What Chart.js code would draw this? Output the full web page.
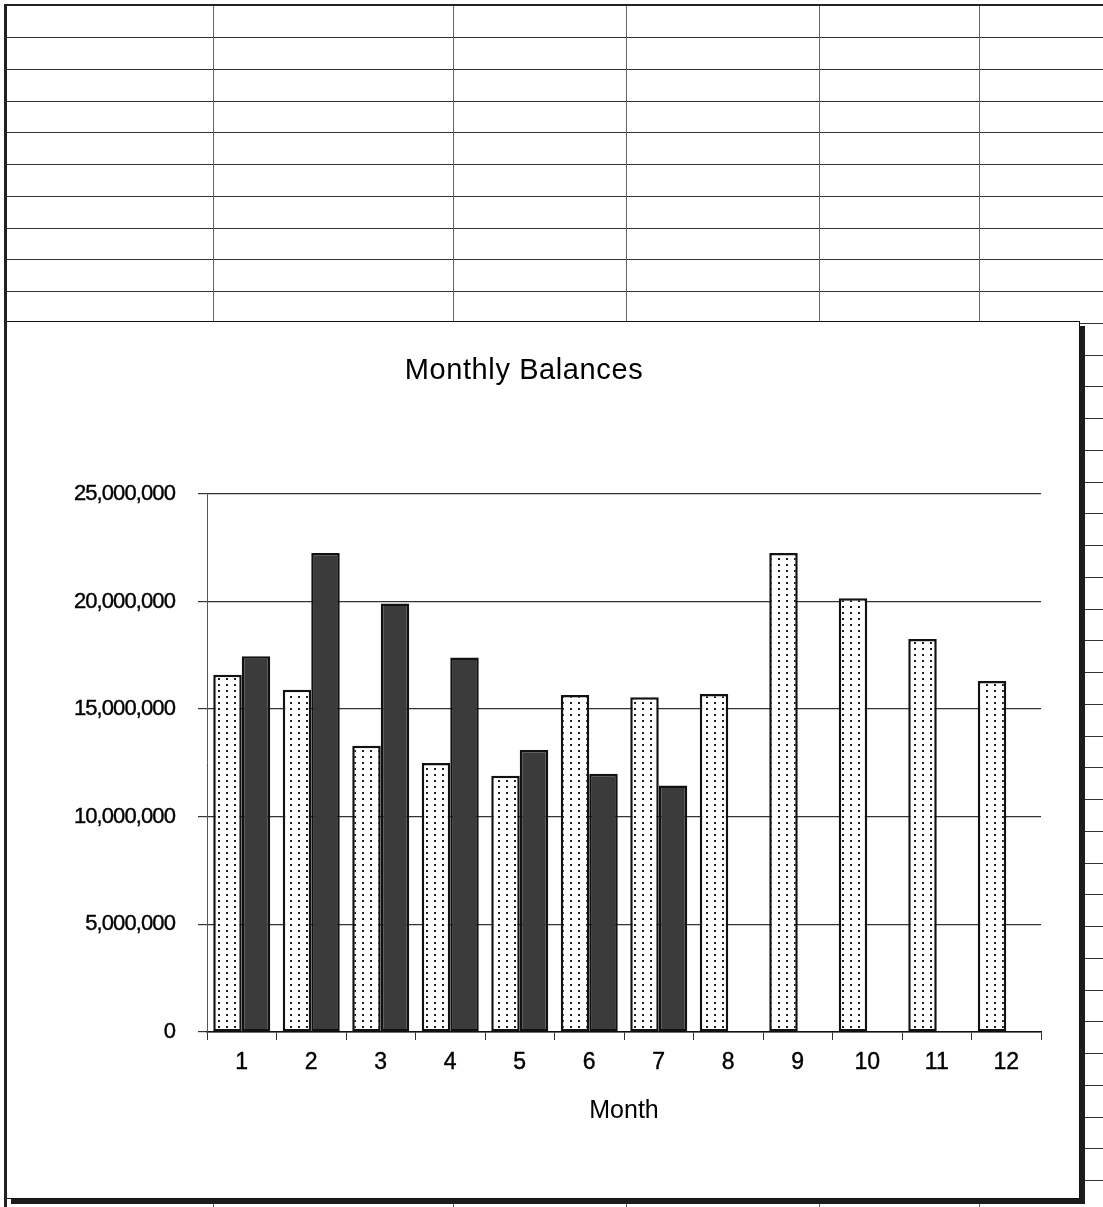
<!DOCTYPE html>
<html>
<head>
<meta charset="utf-8">
<title>Monthly Balances</title>
<script src="https://cdn.jsdelivr.net/npm/chart.js@4.4.1/dist/chart.umd.min.js"></script>
<style>
  html, body { margin: 0; padding: 0; background: #fff; }
  #sheet { position: relative; width: 1103px; height: 1207px; overflow: hidden; background: #fff; }
  .row-line { position: absolute; left: 7px; width: 1096px; height: 1px; background: #333; }
  .col-line { position: absolute; top: 5px; width: 1px; height: 1202px; background: #666; }
  #topEdge { position: absolute; left: 4px; top: 4px; width: 1099px; height: 2px; background: #222; z-index: 3; }
  #leftEdge { position: absolute; left: 4px; top: 4px; width: 3px; height: 1203px; background: #222; z-index: 3; }
  #chartBox {
    position: absolute; left: 6px; top: 321px; width: 1072px; height: 876px;
    border: 1px solid #111; background: #fff; box-shadow: 5px 5px 0 #1c1c1c; z-index: 2;
  }
  #chartBox canvas { display: block; }
</style>
</head>
<body>
<div id="sheet">
  <div id="topEdge"></div>
  <div id="leftEdge"></div>
  <div id="chartBox"><canvas id="balances" width="1072" height="876"></canvas></div>
</div>
<script>
// Chart data
const months = ['1', '2', '3', '4', '5', '6', '7', '8', '9', '10', '11', '12'];
const balancesA = [16600000, 15900000, 13300000, 12500000, 11900000, 15650000,
                   15550000, 15700000, 22250000, 20150000, 18250000, 16300000];
const balancesB = [17450000, 22250000, 19900000, 17400000, 13100000, 12000000,
                   11450000, null, null, null, null, null];
const yTicks = [0, 5000000, 10000000, 15000000, 20000000, 25000000];

// Worksheet cell grid behind the chart object
(function drawSheet() {
  const sheet = document.getElementById('sheet');
  for (let k = 1; k < 38; k++) {
    const d = document.createElement('div');
    d.className = 'row-line';
    d.style.top = Math.round(5.3 + k * 31.75) + 'px';
    sheet.appendChild(d);
  }
  [213, 453, 626, 819, 979].forEach(x => {
    const d = document.createElement('div');
    d.className = 'col-line';
    d.style.left = x + 'px';
    sheet.appendChild(d);
  });
})();

// Dotted fill for the first series
function dotPattern(ctx) {
  const c = document.createElement('canvas');
  c.width = 8; c.height = 6;
  const g = c.getContext('2d');
  g.fillStyle = '#fff';
  g.fillRect(0, 0, 8, 6);
  g.fillStyle = '#1e1e1e';
  g.fillRect(3, 2, 2, 2);
  return ctx.createPattern(c, 'repeat');
}

// Per-element letter spacing for text drawn by Chart.js
function withSpacing(obj, method, spacing) {
  if (!obj || obj['_spaced_' + method]) return;
  const orig = obj[method];
  obj[method] = function (...args) {
    const c = this.ctx;
    const prev = c.letterSpacing;
    c.letterSpacing = spacing;
    orig.apply(this, args);
    c.letterSpacing = prev;
  };
  obj['_spaced_' + method] = true;
}
const textSpacing = {
  id: 'textSpacing',
  afterLayout(chart) {
    withSpacing(chart.titleBlock, 'draw', '0.6px');
    withSpacing(chart.scales.y, 'drawLabels', '-0.9px');
  }
};

const FONT = "'Liberation Sans', Arial, Helvetica, sans-serif";
const canvas = document.getElementById('balances');
const ctx = canvas.getContext('2d');

new Chart(ctx, {
  type: 'bar',
  data: {
    labels: months,
    datasets: [
      {
        label: 'Balance A',
        data: balancesA,
        backgroundColor: dotPattern(ctx),
        borderColor: '#111',
        borderWidth: 2.5,
        borderSkipped: false,
        categoryPercentage: 0.82,
        barPercentage: 1
      },
      {
        label: 'Balance B',
        data: balancesB,
        backgroundColor: '#3b3b3b',
        borderColor: '#111',
        borderWidth: 2.5,
        borderSkipped: false,
        categoryPercentage: 0.82,
        barPercentage: 1
      }
    ]
  },
  plugins: [textSpacing],
  options: {
    responsive: false,
    animation: false,
    devicePixelRatio: 1,
    layout: { padding: { left: 0, right: 38, top: 0, bottom: 0 } },
    plugins: {
      legend: { display: false },
      tooltip: { enabled: false },
      title: {
        display: true,
        text: 'Monthly Balances',
        color: '#000',
        font: { family: FONT, size: 29, weight: 'normal', lineHeight: 1.2 },
        padding: { top: 32, bottom: 105 }
      }
    },
    scales: {
      x: {
        grid: { display: true, drawOnChartArea: false, drawTicks: true, tickLength: 8, color: '#333', offset: true },
        border: { display: true, color: '#111', width: 1.5 },
        ticks: { color: '#000', font: { family: FONT, size: 23 }, padding: 9, textStrokeColor: '#000', textStrokeWidth: 0.4 },
        title: {
          display: true, text: 'Month', color: '#000',
          font: { family: FONT, size: 25, weight: 'normal', lineHeight: 1.2 },
          padding: { top: 0, bottom: 72 }
        },
        afterFit(scale) { scale.height = 166; }
      },
      y: {
        min: 0,
        max: 25000000,
        afterBuildTicks(scale) { scale.ticks = yTicks.map(v => ({ value: v })); },
        ticks: {
          color: '#000',
          font: { family: FONT, size: 22 },
          padding: 23,
          textStrokeColor: '#000',
          textStrokeWidth: 0.4,
          callback: v => Number(v).toLocaleString('en-US')
        },
        grid: { color: '#333', lineWidth: 1.2, tickLength: 9 },
        border: { display: true, color: '#555', width: 1 },
        afterFit(scale) { scale.width = 200; }
      }
    }
  }
});
</script>
</body>
</html>
